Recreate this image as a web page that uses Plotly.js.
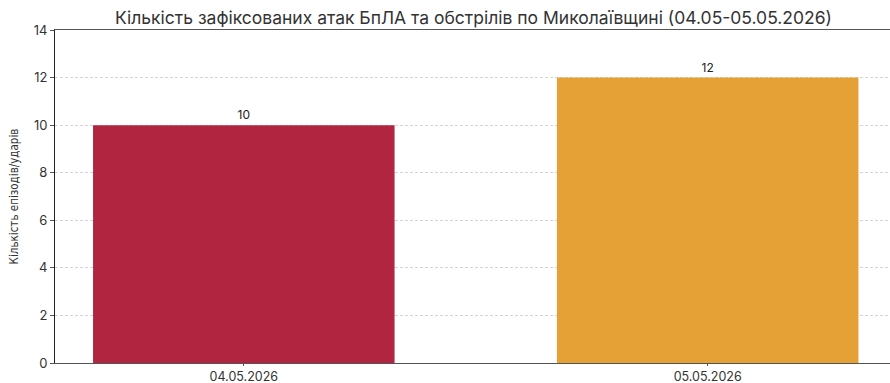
<!DOCTYPE html>
<html>
<head>
<meta charset="utf-8">
<script src="https://cdn.plot.ly/plotly-3.0.1.min.js"></script>
<style>html,body{margin:0;padding:0;background:#fff;}#chart{width:890px;height:383px;}</style>
</head>
<body>
<div id="chart"></div>
<script>
const categories = ["04.05.2026", "05.05.2026"];
const values = [10, 12];
const barColors = ["#B22540", "#E5A135"];
const yTicks = [0, 2, 4, 6, 8, 10, 12, 14];

const trace = {
  type: "bar",
  x: categories,
  y: values,
  marker: {color: barColors},
  width: 0.65,
  text: values.map(String),
  textposition: "outside",
  textfont: {family: "Inter, Liberation Sans, Arial, sans-serif", size: 12, color: "#222"},
  cliponaxis: false,
  hoverinfo: "none"
};

const layout = {
  width: 890, height: 383,
  margin: {l: 55, r: 0, t: 30, b: 20},
  paper_bgcolor: "#fff", plot_bgcolor: "#fff",
  showlegend: false,
  title: {
    text: "Кількість зафіксованих атак БпЛА та обстрілів по Миколаївщині (04.05-05.05.2026)",
    font: {family: "Inter, Liberation Sans, Arial, sans-serif", size: 17.5, color: "#333"},
    x: 0.532, xanchor: "center", y: 0.953, yanchor: "middle"
  },
  xaxis: {
    type: "category",
    range: [-0.407, 1.393],
    showline: true, linecolor: "#555", linewidth: 1, mirror: true,
    ticks: "outside", ticklen: 2, tickcolor: "#555",
    tickfont: {family: "Inter, Liberation Sans, Arial, sans-serif", size: 12.5, color: "#333"},
    showgrid: false, zeroline: false
  },
  yaxis: {
    range: [0, 14],
    tickvals: yTicks,
    showline: true, linecolor: "#222", linewidth: 1,
    ticks: "outside", ticklen: 4, tickcolor: "#555",
    tickfont: {family: "Inter, Liberation Sans, Arial, sans-serif", size: 13, color: "#333"},
    showgrid: true, gridcolor: "#d4d4d4", griddash: "3px,2px", gridwidth: 1,
    zeroline: false,
    title: {
      text: "Кількість епізодів/ударів",
      font: {family: "Liberation Sans Narrow, DejaVu Sans Condensed, Arial, sans-serif", size: 11.5, color: "#333"},
      standoff: 12
    }
  }
};

Plotly.newPlot("chart", [trace], layout, {displayModeBar: false, staticPlot: true});
</script>
</body>
</html>
